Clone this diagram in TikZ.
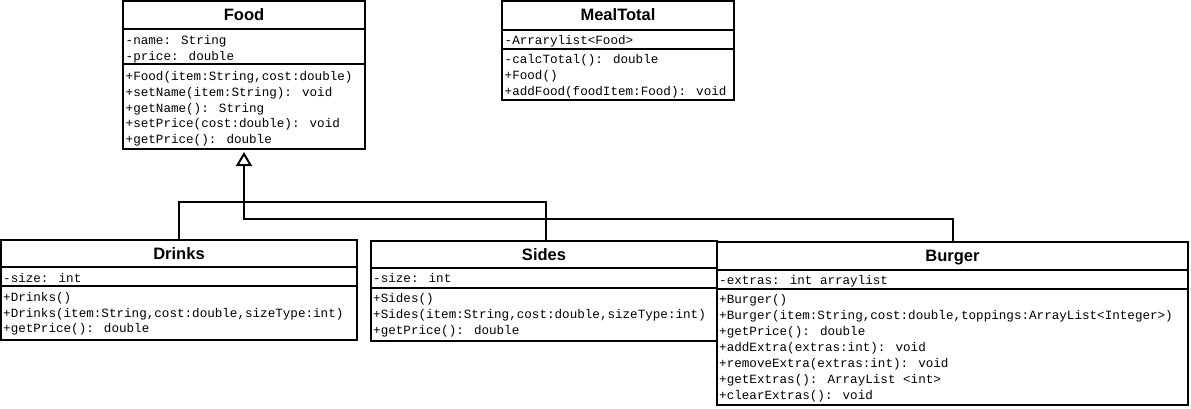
\documentclass[tikz,border=0pt]{standalone}
\usepackage{fontspec}
\setmainfont{Liberation Sans}
\newfontfamily\monof{Liberation Mono}
\usetikzlibrary{arrows.meta}
\newcommand\umlrows[5]{\foreach \t [count=\i] in {#5}{\node[txt] (#4\i) at (#1,{-(#2)-(\i-1)*(#3)}) {\t};}}
\newcommand\umldiv[2]{\draw[div] (#1.west |- 0,-#2) -- (#1.east |- 0,-#2);}
\begin{document}
\begin{tikzpicture}[x=1pt,y=1pt,
  cls/.style={draw, line width=2pt, rectangle, inner sep=0pt, outer sep=0pt, anchor=north west},
  ttl/.style={font=\fontsize{16.5}{18}\selectfont\bfseries, anchor=base, inner sep=0pt},
  txt/.style={font=\monof\fontsize{12.6}{15}\selectfont, anchor=base west, inner sep=0pt},
  div/.style={line width=2pt},
  conn/.style={line width=2pt},
  gen/.style={conn, -{Triangle[open, length=14pt, width=16pt]}, shorten >=3pt},
]
\useasboundingbox (0,0) rectangle (1191,-409);

% Food
\node[cls, minimum width=242, minimum height=148] (food) at (123,-1) {};
\umldiv{food}{29}
\umldiv{food}{64}
\node[ttl] (foodT) at (244,-20.7) {Food};
\umlrows{125.5}{45}{15.6}{fa}{{-name: String},{-price: double}}
\umlrows{125.5}{81}{15.6}{fm}{{+Food(item:String,cost:double)},{+setName(item:String): void},{+getName(): String},{+setPrice(cost:double): void},{+getPrice(): double}}

% MealTotal
\node[cls, minimum width=232, minimum height=99] (meal) at (502,-1) {};
\umldiv{meal}{30}
\umldiv{meal}{49}
\node[ttl] (mealT) at (618,-20.7) {MealTotal};
\umlrows{504.5}{44.5}{15.6}{ma}{{-Arrarylist<Food>}}
\umlrows{504.5}{64}{15.6}{mm}{{-calcTotal(): double},{+Food()},{+addFood(foodItem:Food): void}}

% Drinks
\node[cls, minimum width=356, minimum height=100] (drinks) at (1,-240) {};
\umldiv{drinks}{267}
\umldiv{drinks}{286}
\node[ttl] (drinksT) at (179,-259.3) {Drinks};
\umlrows{3}{282.5}{15.6}{da}{{-size: int}}
\umlrows{3}{301.5}{15.6}{dm}{{+Drinks()},{+Drinks(item:String,cost:double,sizeType:int)},{+getPrice(): double}}

% Sides
\node[cls, minimum width=346, minimum height=100] (sides) at (371,-241) {};
\umldiv{sides}{268}
\umldiv{sides}{288}
\node[ttl] (sidesT) at (544,-260.7) {Sides};
\umlrows{373}{282.5}{15.6}{sa}{{-size: int}}
\umlrows{373}{302}{16}{sm}{{+Sides()},{+Sides(item:String,cost:double,sizeType:int)},{+getPrice(): double}}

% Burger
\node[cls, minimum width=471, minimum height=163] (burger) at (717,-242) {};
\umldiv{burger}{270}
\umldiv{burger}{289}
\node[ttl] (burgerT) at (952.5,-261.7) {Burger};
\umlrows{719}{284}{16}{ba}{{-extras: int arraylist}}
\umlrows{719}{303.5}{16}{bm}{{+Burger()},{+Burger(item:String,cost:double,toppings:ArrayList<Integer>)},{+getPrice(): double},{+addExtra(extras:int): void},{+removeExtra(extras:int): void},{+getExtras(): ArrayList <int>},{+clearExtras(): void}}

% Connectors
\coordinate (jb) at (952.5,-219);
\coordinate (ja) at (546,-202);
\draw[gen] (burger.north) -- (jb) -| (food.south);
\draw[conn] (drinks.north) |- (ja) -- (ja |- sides.north);
\end{tikzpicture}
\end{document}
